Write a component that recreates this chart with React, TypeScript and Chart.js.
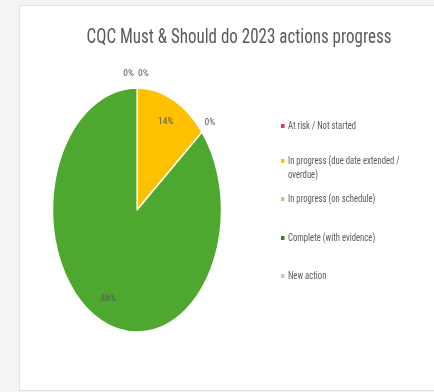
import React, { useEffect, useRef } from "react";
import { Chart, registerables } from "chart.js";

Chart.register(...registerables);

const TITLE = "CQC Must & Should do 2023 actions progress";
const categories = [
  "At risk / Not started",
  "In progress (due date extended / overdue)",
  "In progress (on schedule)",
  "Complete (with evidence)",
  "New action",
];
const legendLines = [
  ["At risk / Not started"],
  ["In progress (due date extended /", "overdue)"],
  ["In progress (on schedule)"],
  ["Complete (with evidence)"],
  ["New action"],
];
const values = [0, 14, 0, 86, 0];
const pieColors = ["#e5394b", "#ffc000", "#a9d18e", "#4ea72e", "#bfc7d0"];
const legendColors = ["#e5394b", "#ffc000", "#a9d18e", "#3b7d23", "#bfc7d0"];

const FONT = "'Liberation Sans Narrow', 'Roboto Condensed', Roboto, 'Open Sans', sans-serif";
const Y_STRETCH = 123 / 85;

const ellipsePlugin = {
  id: "ellipse",
  beforeDatasetsDraw(chart: any) {
    const meta = chart.getDatasetMeta(0);
    const arc = meta.data[0];
    if (!arc) return;
    const ctx = chart.ctx;
    ctx.save();
    ctx.translate(arc.x, arc.y);
    ctx.scale(1, Y_STRETCH);
    ctx.translate(-arc.x, -arc.y);
  },
  afterDatasetsDraw(chart: any) {
    chart.ctx.restore();
  },
};

const labelPlugin = {
  id: "pieLabels",
  afterDraw(chart: any) {
    const ctx = chart.ctx;
    const meta = chart.getDatasetMeta(0);
    const data = chart.data.datasets[0].data as number[];
    const total = data.reduce((a, b) => a + b, 0);
    ctx.save();
    ctx.font = `9.5px ${FONT}`;
    ctx.textBaseline = "middle";
    meta.data.forEach((arc: any, i: number) => {
      const v = data[i];
      const pct = Math.round((v / total) * 100) + "%";
      const mid = (arc.startAngle + arc.endAngle) / 2;
      const r = arc.outerRadius;
      const k = v === 0 ? 1.12 : 0.8;
      const x = arc.x + Math.cos(mid) * r * k;
      const y = arc.y + Math.sin(mid) * r * k * Y_STRETCH;
      ctx.fillStyle = "#595959";
      if (v === 0 && Math.abs(Math.cos(mid)) < 0.05) {
        if (i === 0) {
          ctx.textAlign = "left";
          ctx.fillText(pct, x + 1, y);
        } else {
          ctx.textAlign = "right";
          ctx.fillText(pct, x - 3, y);
        }
      } else {
        ctx.textAlign = "center";
        ctx.fillText(pct, x, y);
      }
    });
    ctx.restore();
  },
};

export default function App() {
  const ref = useRef<HTMLCanvasElement | null>(null);
  useEffect(() => {
    if (!ref.current) return;
    const chart = new Chart(ref.current, {
      type: "pie",
      data: {
        labels: categories,
        datasets: [
          {
            data: values,
            backgroundColor: pieColors,
            borderColor: "#ffffff",
            borderWidth: 1.2,
          },
        ],
      },
      options: {
        animation: false,
        responsive: false,
        maintainAspectRatio: false,
        layout: { padding: { left: 52, right: 212, top: 125, bottom: 97 } },
        plugins: {
          legend: { display: false },
          title: { display: false },
          tooltip: { enabled: false },
        },
      },
      plugins: [ellipsePlugin, labelPlugin],
    });
    return () => chart.destroy();
  }, []);

  return (
    <div style={{ position: "fixed", left: 0, top: 0, width: 434, height: 392, background: "#f3f4f4", overflow: "hidden" }}>
      <div
        style={{
          position: "absolute",
          left: 19,
          top: 5,
          width: 430,
          height: 384,
          background: "#ffffff",
          border: "1px solid #e3e3e3",
        }}
      />
      <canvas ref={ref} width={434} height={392} style={{ position: "absolute", left: 0, top: 0, width: 434, height: 392 }} />
      <div
        style={{
          position: "absolute",
          left: 40,
          width: 398,
          top: 24,
          textAlign: "center",
          fontFamily: FONT,
          fontSize: 20,
          color: "#595959",
          whiteSpace: "nowrap",
          transform: "scaleX(0.85)",
          transformOrigin: "199px 50%",
        }}
      >
        {TITLE}
      </div>
      {legendLines.map((lines, i) => {
        const tops = [119, 154, 192, 231, 269];
        return (
          <div
            key={i}
            style={{
              position: "absolute",
              left: 281,
              top: tops[i],
              fontFamily: FONT,
              fontSize: 10,
              lineHeight: "14px",
              color: "#595959",
              transform: "scaleX(0.87)",
              transformOrigin: "0 50%",
            }}
          >
            {lines.map((ln, j) => (
              <div key={j} style={{ display: "flex", alignItems: "center" }}>
                <span
                  style={{
                    display: "inline-block",
                    width: 4,
                    height: 4,
                    marginRight: 4,
                    background: j === 0 ? legendColors[i] : "transparent",
                  }}
                />
                <span style={{ whiteSpace: "nowrap" }}>{ln}</span>
              </div>
            ))}
          </div>
        );
      })}
    </div>
  );
}
